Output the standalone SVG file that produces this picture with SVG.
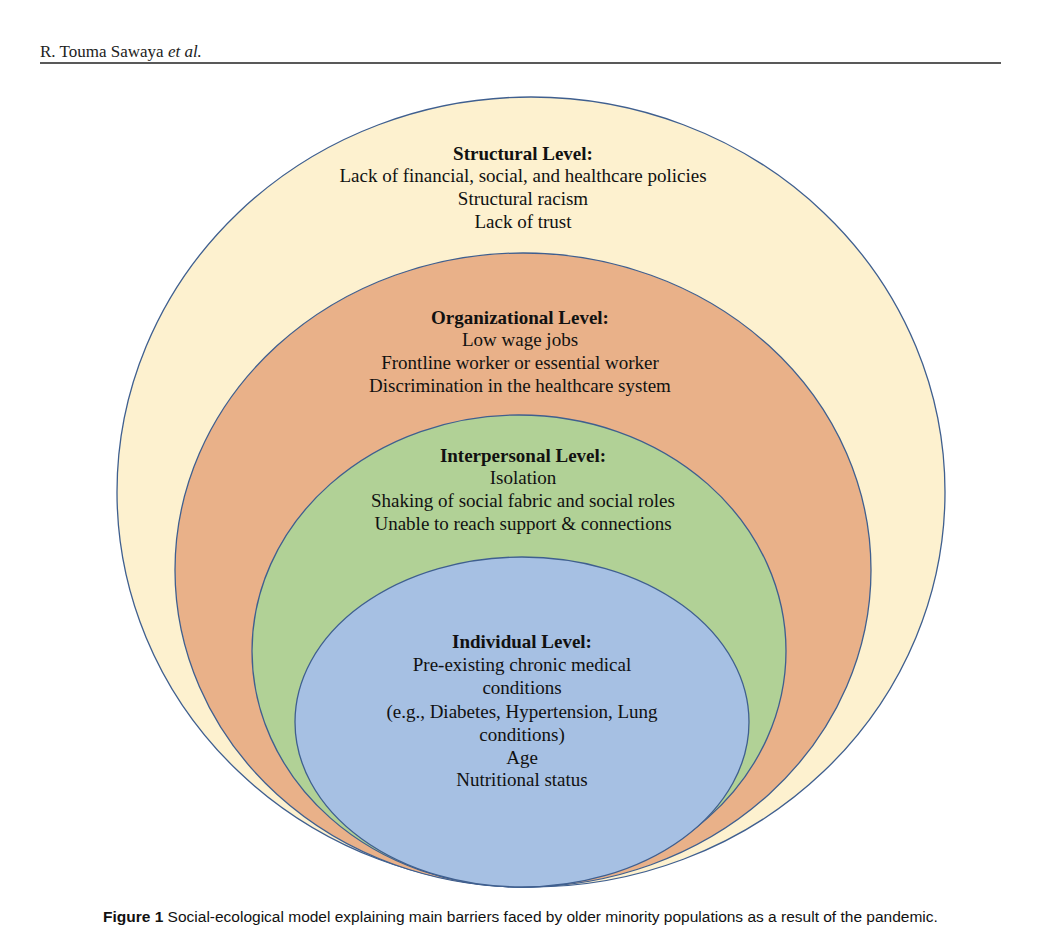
<svg xmlns="http://www.w3.org/2000/svg" width="1061" height="938" viewBox="0 0 1061 938">
<style>
.e{stroke:#3f5f8f;stroke-width:1.3}
.t{font-family:"Liberation Serif",serif;font-size:19px;fill:#111;text-anchor:middle}
.b{font-weight:bold}
</style>
<rect width="1061" height="938" fill="#fff"/>
<text x="40" y="57" style="font-family:'Liberation Serif',serif;font-size:17px" fill="#222">R. Touma Sawaya <tspan font-style="italic">et al.</tspan></text>
<line x1="40" y1="63" x2="1001" y2="63" stroke="#222" stroke-width="1.5"/>
<g id="structural"><ellipse class="e" cx="531" cy="492" rx="414" ry="395" fill="#fdf1cf"/>
<text class="t b" x="523" y="160">Structural Level:</text>
<text class="t" x="523" y="182">Lack of financial, social, and healthcare policies</text>
<text class="t" x="523" y="205">Structural racism</text>
<text class="t" x="523" y="228">Lack of trust</text></g>
<g id="organizational"><ellipse class="e" cx="523" cy="570" rx="348" ry="317" fill="#e9b189"/>
<text class="t b" x="520" y="324">Organizational Level:</text>
<text class="t" x="520" y="346">Low wage jobs</text>
<text class="t" x="520" y="369">Frontline worker or essential worker</text>
<text class="t" x="520" y="392">Discrimination in the healthcare system</text></g>
<g id="interpersonal"><ellipse class="e" cx="519" cy="651" rx="267" ry="236" fill="#b1d196"/>
<text class="t b" x="523" y="462">Interpersonal Level:</text>
<text class="t" x="523" y="484">Isolation</text>
<text class="t" x="523" y="507">Shaking of social fabric and social roles</text>
<text class="t" x="523" y="530">Unable to reach support &amp; connections</text></g>
<g id="individual"><ellipse class="e" cx="522" cy="722" rx="227" ry="165" fill="#a6c0e3"/>
<text class="t b" x="522" y="648">Individual Level:</text>
<text class="t" x="522" y="671">Pre-existing chronic medical</text>
<text class="t" x="522" y="694">conditions</text>
<text class="t" x="522" y="718">(e.g., Diabetes, Hypertension, Lung</text>
<text class="t" x="522" y="741">conditions)</text>
<text class="t" x="522" y="764">Age</text>
<text class="t" x="522" y="786">Nutritional status</text></g>
<g id="connectors"/>
<text x="103" y="922" style="font-family:'Liberation Sans',sans-serif;font-size:15.5px" fill="#111"><tspan font-weight="bold">Figure 1</tspan>  Social-ecological model explaining main barriers faced by older minority populations as a result of the pandemic.</text>
</svg>
